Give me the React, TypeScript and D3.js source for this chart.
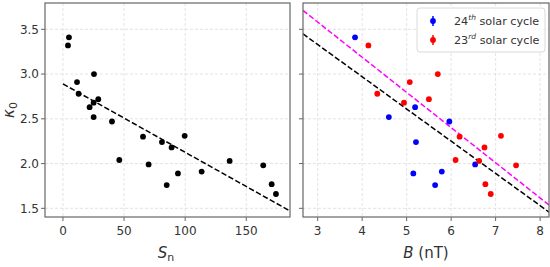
import { useRef, useEffect } from "react";
import * as d3 from "d3";

// Left panel: kappa_0 vs sunspot number
const SN_VALUES = [4.9, 4.1, 11.5, 12.8, 25.4, 21.8, 25.1, 28.9, 25.1, 40.1, 46.1, 65.5, 70.1, 81, 88.9, 84.9, 94.1, 99.6, 113.5, 136.4, 163.9, 170.8, 174.3];
const KAPPA_SN = [3.41, 3.32, 2.91, 2.78, 3.0, 2.63, 2.68, 2.72, 2.52, 2.47, 2.04, 2.3, 1.99, 2.24, 2.18, 1.76, 1.89, 2.31, 1.91, 2.03, 1.98, 1.77, 1.66];

// Right panel: kappa_0 vs B, by solar cycle
const B_24 = [3.84, 4.6, 5.19, 5.21, 5.15, 5.79, 5.64, 5.96, 6.54];
const KAPPA_24 = [3.41, 2.52, 2.63, 2.24, 1.89, 1.91, 1.76, 2.47, 1.99];
const B_23 = [4.14, 4.34, 5.07, 4.94, 5.5, 5.7, 6.19, 6.1, 6.63, 6.75, 7.12, 7.46, 6.77, 6.89];
const KAPPA_23 = [3.32, 2.78, 2.91, 2.68, 2.72, 3.0, 2.3, 2.04, 2.03, 2.18, 2.31, 1.98, 1.77, 1.66];

// linear fits [intercept, slope]
const FIT_SN = [2.89, -0.00764];
const FIT_B_ALL = [4.41, -0.36];
const FIT_B_23 = [4.76, -0.393];

const Y_TICKS = [1.5, 2.0, 2.5, 3.0, 3.5];
const SN_TICKS = [0, 50, 100, 150];
const B_TICKS = [3, 4, 5, 6, 7, 8];

const W = 550;
const H = 267;
const TOP = 3;
const BOTTOM = 217;
const LEFT_PANEL = [45, 290];
const RIGHT_PANEL = [303, 549];
const FONT = "DejaVu Sans, sans-serif";
const TEXT_COLOR = "#333";
const SPINE = "#666";

export default function App() {
  const svgRef = useRef<SVGSVGElement>(null);

  useEffect(() => {
    if (!svgRef.current) return;
    const svg = d3.select(svgRef.current);
    svg.selectAll("*").remove();

    const y = d3.scaleLinear().domain([1.403, 3.794]).range([BOTTOM, TOP]);
    const xSn = d3.scaleLinear().domain([-14.7, 185.8]).range(LEFT_PANEL);
    const xB = d3.scaleLinear().domain([2.67, 8.2]).range(RIGHT_PANEL);

    function panel(x: d3.ScaleLinear<number, number>, xTicks: number[], yLabels: boolean, id: string) {
      const [x0, x1] = x.range();
      const g = svg.append("g");
      svg.append("defs").append("clipPath").attr("id", id)
        .append("rect").attr("x", x0).attr("y", TOP).attr("width", x1 - x0).attr("height", BOTTOM - TOP);

      // grid
      g.selectAll(".gx").data(xTicks).join("line")
        .attr("x1", (d) => x(d)).attr("x2", (d) => x(d))
        .attr("y1", TOP).attr("y2", BOTTOM)
        .attr("stroke", "#dcdcdc").attr("stroke-dasharray", "3,2").attr("stroke-width", 0.8);
      g.selectAll(".gy").data(Y_TICKS).join("line")
        .attr("x1", x0).attr("x2", x1)
        .attr("y1", (d) => y(d)).attr("y2", (d) => y(d))
        .attr("stroke", "#dcdcdc").attr("stroke-dasharray", "3,2").attr("stroke-width", 0.8);

      // ticks
      g.selectAll(".tx").data(xTicks).join("line")
        .attr("x1", (d) => x(d)).attr("x2", (d) => x(d))
        .attr("y1", BOTTOM).attr("y2", BOTTOM + 4)
        .attr("stroke", SPINE).attr("stroke-width", 1);
      g.selectAll(".txl").data(xTicks).join("text")
        .attr("x", (d) => x(d)).attr("y", BOTTOM + 18)
        .attr("text-anchor", "middle").attr("font-family", FONT).attr("font-size", 12)
        .attr("fill", TEXT_COLOR).text((d) => String(d));
      g.selectAll(".ty").data(Y_TICKS).join("line")
        .attr("x1", x0 - 4).attr("x2", x0)
        .attr("y1", (d) => y(d)).attr("y2", (d) => y(d))
        .attr("stroke", SPINE).attr("stroke-width", 1);
      if (yLabels) {
        g.selectAll(".tyl").data(Y_TICKS).join("text")
          .attr("x", x0 - 6).attr("y", (d) => y(d) + 4.3)
          .attr("text-anchor", "end").attr("font-family", FONT).attr("font-size", 12)
          .attr("fill", TEXT_COLOR).text((d) => d.toFixed(1));
      }
      return { g, x0, x1 };
    }

    function fitLine(g: d3.Selection<SVGGElement, unknown, null, undefined>, x: d3.ScaleLinear<number, number>, fit: number[], from: number, color: string, clip: string) {
      const to = x.domain()[1];
      g.append("path")
        .datum([from, to])
        .attr("d", d3.line<number>().x((d) => x(d)).y((d) => y(fit[0] + fit[1] * d)))
        .attr("fill", "none").attr("stroke", color).attr("stroke-width", 1.5)
        .attr("stroke-dasharray", "5.5,2.4").attr("clip-path", `url(#${clip})`);
    }

    function frame(x0: number, x1: number) {
      svg.append("rect").attr("x", x0).attr("y", TOP).attr("width", x1 - x0).attr("height", BOTTOM - TOP)
        .attr("fill", "none").attr("stroke", SPINE).attr("stroke-width", 1.2);
    }

    const R_PT = 2.9;

    // Left panel
    const L = panel(xSn, SN_TICKS, true, "clipL");
    fitLine(L.g, xSn, FIT_SN, 0, "#000", "clipL");
    L.g.selectAll(".pt").data(SN_VALUES).join("circle")
      .attr("cx", (d) => xSn(d)).attr("cy", (_d, i) => y(KAPPA_SN[i]))
      .attr("r", R_PT).attr("fill", "#000");
    frame(L.x0, L.x1);

    // Right panel
    const R = panel(xB, B_TICKS, false, "clipR");
    fitLine(R.g, xB, FIT_B_23, 2.67, "#ff00ff", "clipR");
    fitLine(R.g, xB, FIT_B_ALL, 2.67, "#000", "clipR");
    R.g.selectAll(".p24").data(B_24).join("circle")
      .attr("cx", (d) => xB(d)).attr("cy", (_d, i) => y(KAPPA_24[i]))
      .attr("r", R_PT).attr("fill", "#0000ff");
    R.g.selectAll(".p23").data(B_23).join("circle")
      .attr("cx", (d) => xB(d)).attr("cy", (_d, i) => y(KAPPA_23[i]))
      .attr("r", R_PT).attr("fill", "#ff0000");
    frame(R.x0, R.x1);

    // Legend
    const lg = svg.append("g");
    lg.append("rect").attr("x", 417).attr("y", 8).attr("width", 128).attr("height", 44).attr("rx", 3)
      .attr("fill", "rgba(255,255,255,0.85)").attr("stroke", "#d0d0d0").attr("stroke-width", 0.8);
    const entries = [
      { num: "24", sup: "th", color: "#0000ff" },
      { num: "23", sup: "rd", color: "#ff0000" },
    ];
    entries.forEach((e, i) => {
      const cy = 21 + i * 19;
      lg.append("line").attr("x1", 433).attr("x2", 433).attr("y1", cy - 5).attr("y2", cy + 5)
        .attr("stroke", e.color).attr("stroke-width", 1.5);
      lg.append("circle").attr("cx", 433).attr("cy", cy).attr("r", R_PT).attr("fill", e.color);
      const t = lg.append("text").attr("x", 454).attr("y", cy + 4.3)
        .attr("font-family", FONT).attr("font-size", 11.2).attr("fill", TEXT_COLOR);
      t.append("tspan").text(e.num);
      t.append("tspan").attr("font-size", 7.5).attr("font-style", "italic").attr("dy", -5).text(e.sup);
      t.append("tspan").attr("dy", 5).text(" solar cycle");
    });

    // Axis labels
    const yl = svg.append("text").attr("transform", `translate(14,110) rotate(-90)`)
      .attr("text-anchor", "middle").attr("font-family", FONT).attr("font-size", 15).attr("fill", TEXT_COLOR);
    yl.append("tspan").attr("font-style", "italic").text("κ");
    yl.append("tspan").attr("font-size", 11).attr("dy", 3).text("0");

    const xl = svg.append("text").attr("x", 166).attr("y", 258)
      .attr("text-anchor", "middle").attr("font-family", FONT).attr("font-size", 15).attr("fill", TEXT_COLOR);
    xl.append("tspan").attr("font-style", "italic").text("S");
    xl.append("tspan").attr("font-size", 11).attr("dy", 3).text("n");

    const bl = svg.append("text").attr("x", 426).attr("y", 258)
      .attr("text-anchor", "middle").attr("font-family", FONT).attr("font-size", 15).attr("fill", TEXT_COLOR);
    bl.append("tspan").attr("font-style", "italic").text("B");
    bl.append("tspan").text(" (nT)");
  }, []);

  return (
    <div style={{ position: "fixed", left: 0, top: 0, background: "#fff" }}>
      <svg ref={svgRef} width={W} height={H} viewBox={`0 0 ${W} ${H}`} style={{ display: "block" }} />
    </div>
  );
}
